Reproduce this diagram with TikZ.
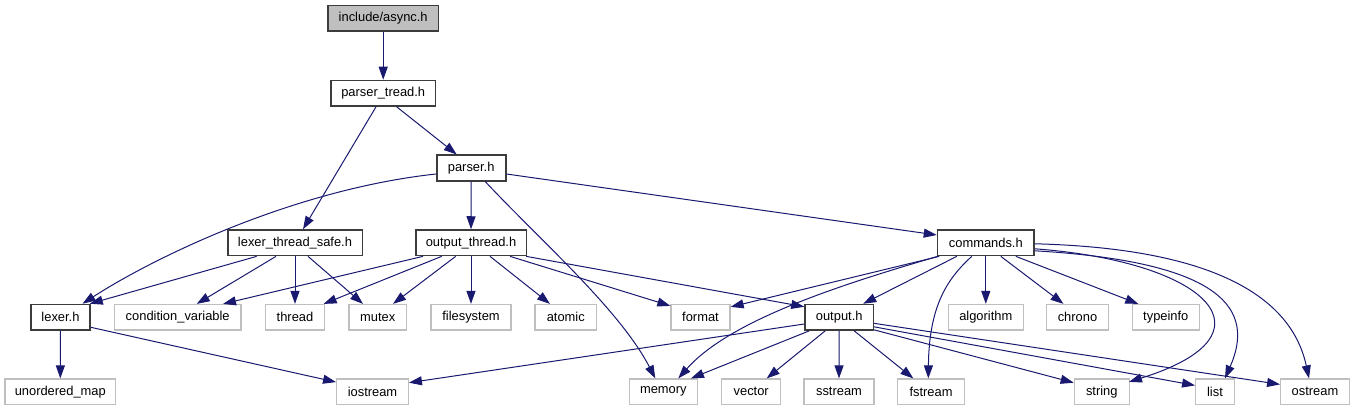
\documentclass[tikz,border=0pt]{standalone}
\usepackage{fontspec}
\setmainfont{Liberation Sans}
\usetikzlibrary{arrows.meta,calc}
\definecolor{edgeblue}{HTML}{191970}
\definecolor{darkborder}{HTML}{3C3C3C}
\definecolor{lightborder}{HTML}{BFBFBF}
\definecolor{rootfill}{HTML}{BFBFBF}
\tikzset{
  basebox/.style={rectangle, inner sep=0pt, minimum height=25.5pt, font=\fontsize{12.9}{15}\selectfont, text=black},
  docbox/.style={basebox, draw=darkborder, line width=1.6pt, fill=white},
  rootbox/.style={basebox, draw=darkborder, line width=1.6pt, fill=rootfill},
  extbox/.style={basebox, draw=lightborder, line width=1.3pt, fill=white},
  edge/.style={draw=edgeblue, line width=1pt, -{Triangle[length=13pt,width=9pt,fill=edgeblue]}},
}
\begin{document}
\begin{tikzpicture}[x=1pt,y=-1pt]
\useasboundingbox (0,0) rectangle (1355,411);
% row 0-3
\node[rootbox, minimum width=110.5pt] (async) at (383.2,18.3) {include/async.h};
\node[docbox, minimum width=104.3pt] (pt) at (383.2,93.3) {parser\_tread.h};
\node[docbox, minimum width=69pt] (parser) at (471.2,168) {parser.h};
\node[docbox, minimum width=134.6pt] (lts) at (295,242.8) {lexer\_thread\_safe.h};
\node[docbox, minimum width=110.6pt] (ot) at (471,242.8) {output\_thread.h};
\node[docbox, minimum width=96.5pt] (cmd) at (985.8,242.8) {commands.h};
% row 4
\node[docbox, minimum width=59pt] (lexer) at (60.5,317.3) {lexer.h};
\node[extbox, minimum width=126.7pt] (cv) at (177.7,317.3) {condition\_variable};
\node[extbox, minimum width=58.6pt] (thread) at (295,317.3) {thread};
\node[extbox, minimum width=57.7pt] (mutex) at (377.8,317.3) {mutex};
\node[extbox, minimum width=80pt] (fs) at (471,317.3) {filesystem};
\node[extbox, minimum width=61.7pt] (atomic) at (565.8,317.3) {atomic};
\node[extbox, minimum width=59pt] (format) at (700.5,317.3) {format};
\node[docbox, minimum width=68.3pt] (outh) at (839.2,317.3) {output.h};
\node[extbox, minimum width=75pt] (algo) at (985.8,317.3) {algorithm};
\node[extbox, minimum width=61.6pt] (chrono) at (1077.5,317.3) {chrono};
\node[extbox, minimum width=67pt] (typeinfo) at (1165.8,317.3) {typeinfo};
% row 5
\node[extbox, minimum width=110.7pt] (umap) at (60.3,391.8) {unordered\_map};
\node[extbox, minimum width=71.6pt] (iostream) at (372.5,391.8) {iostream};
\node[extbox, minimum width=68pt] (memory) at (663.3,391.8) {memory};
\node[extbox, minimum width=59pt] (vector) at (751.2,391.8) {vector};
\node[extbox, minimum width=70pt] (sstream) at (839,391.8) {sstream};
\node[extbox, minimum width=66.6pt] (fstream) at (931,391.8) {fstream};
\node[extbox, minimum width=55pt] (string) at (1101.8,391.8) {string};
\node[extbox, minimum width=38.6pt] (list) at (1215,391.8) {list};
\node[extbox, minimum width=68.6pt] (ostream) at (1315,391.8) {ostream};

% edges
\draw[edge] (async.south) -- (pt.north);
\draw[edge] ([xshift=13.5pt]pt.south) -- ([xshift=-14.5pt]parser.north);
\draw[edge] ([xshift=-7.2pt]pt.south) -- ([xshift=8pt]lts.north);
\draw[edge] ([yshift=-6pt]parser.west) .. controls (290,190) and (150,260) .. ([xshift=22pt]lexer.north);
\draw[edge] (parser.south) -- (ot.north);
\draw[edge] ([xshift=14pt]parser.south) .. controls (540,240) and (620,310) .. ([xshift=-8pt]memory.north);
\draw[edge] ([yshift=-6pt]parser.east) -- ([yshift=7.8pt]cmd.west);

\draw[edge] ([xshift=-38.3pt]lts.south) -- ([xshift=-1pt]lexer.north east);
\draw[edge] ([xshift=-19pt]lts.south) -- ([xshift=19pt]cv.north);
\draw[edge] (lts.south) -- (thread.north);
\draw[edge] ([xshift=13pt]lts.south) -- ([xshift=-14.8pt]mutex.north);

\draw[edge] ([xshift=-48pt]ot.south) -- ([xshift=45.3pt]cv.north);
\draw[edge] ([xshift=-29.3pt]ot.south) -- ([xshift=-1.3pt]thread.north east);
\draw[edge] ([xshift=-15.3pt]ot.south) -- ([xshift=15.2pt]mutex.north);
\draw[edge] (ot.south) -- (fs.north);
\draw[edge] ([xshift=19pt]ot.south) -- ([xshift=-15.8pt]atomic.north);
\draw[edge] ([xshift=39pt]ot.south) -- ([yshift=-2pt]format.north west);
\draw[edge] ([xshift=-1pt]ot.south east) -- ([yshift=-3pt]outh.north west);

\draw[edge] ([xshift=2.5pt]cmd.south west) -- ([yshift=-3pt]format.north east);
\draw[edge] ([xshift=1pt]cmd.south west) .. controls (840,285) and (730,320) .. ([xshift=15pt]memory.north);
\draw[edge] ([xshift=-29pt]cmd.south) -- ([xshift=24pt]outh.north);
\draw[edge] ([xshift=-14pt]cmd.south) .. controls (948,278) and (929,305) .. ([xshift=-2.7pt]fstream.north);
\draw[edge] (cmd.south) -- (algo.north);
\draw[edge] ([xshift=15pt]cmd.south) -- ([xshift=-14pt]chrono.north);
\draw[edge] ([xshift=30pt]cmd.south) -- ([xshift=-27.5pt]typeinfo.north);
\draw[edge] ([yshift=-6pt]cmd.east) .. controls (1210,262) and (1280,335) .. ([xshift=-1pt,yshift=-3.5pt]string.north east);
\draw[edge] ([yshift=-8pt]cmd.east) .. controls (1225,262) and (1255,310) .. ([xshift=10pt]list.north);
\draw[edge] ([yshift=-1pt]cmd.east) .. controls (1200,248) and (1290,290) .. ([xshift=-6pt]ostream.north);

\draw[edge] (lexer.south) -- (umap.north);
\draw[edge] ([yshift=-10pt]lexer.east) -- ([yshift=-3.7pt]iostream.north west);

\draw[edge] ([yshift=-6.7pt]outh.west) -- ([yshift=-4.3pt]iostream.north east);
\draw[edge] ([xshift=5pt]outh.south west) -- ([xshift=-7pt]memory.north east);
\draw[edge] ([xshift=-14pt]outh.south) -- ([xshift=15.5pt]vector.north);
\draw[edge] (outh.south) -- (sstream.north);
\draw[edge] ([xshift=15pt]outh.south) -- ([xshift=-17.7pt]fstream.north);
\draw[edge] ([yshift=1pt]outh.south east) -- ([yshift=-4.3pt]string.north west);
\draw[edge] ([yshift=4pt]outh.south east) -- ([yshift=-7pt]list.north west);
\draw[edge] ([yshift=7.5pt]outh.south east) -- ([yshift=-6pt]ostream.north west);
\end{tikzpicture}
\end{document}
